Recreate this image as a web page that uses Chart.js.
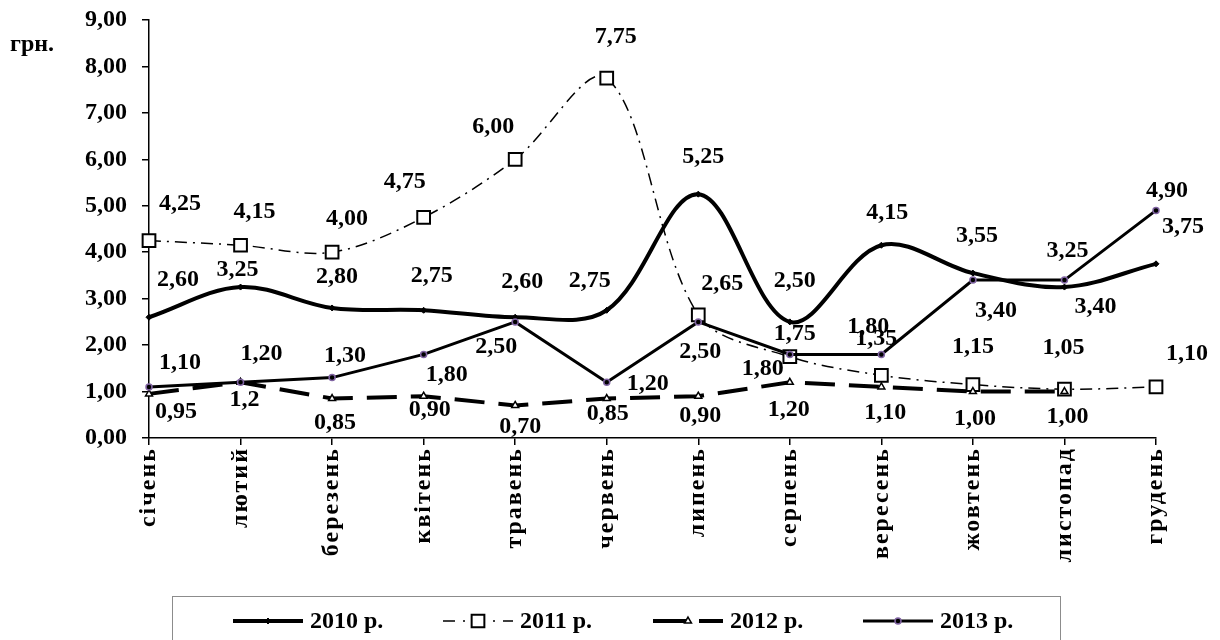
<!DOCTYPE html>
<html>
<head>
<meta charset="utf-8">
<script src="https://cdn.jsdelivr.net/npm/chart.js@4"></script>
<style>
  body { margin: 0; background: #fff; }
  canvas { display: block; }
</style>
</head>
<body>
<canvas id="lineChart" width="1220" height="640"></canvas>
<script>
const months = ["січень", "лютий", "березень", "квітень", "травень", "червень",
  "липень", "серпень", "вересень", "жовтень", "листопад", "грудень"];
const v2010 = [2.60, 3.25, 2.80, 2.75, 2.60, 2.75, 5.25, 2.50, 4.15, 3.55, 3.25, 3.75];
const v2011 = [4.25, 4.15, 4.00, 4.75, 6.00, 7.75, 2.65, 1.75, 1.35, 1.15, 1.05, 1.10];
const v2012 = [0.95, 1.20, 0.85, 0.90, 0.70, 0.85, 0.90, 1.20, 1.10, 1.00, 1.00, null];
const v2013 = [1.10, 1.20, 1.30, 1.80, 2.50, 1.20, 2.50, 1.80, 1.80, 3.40, 3.40, 4.90];
const seriesNames = ["2010 р.", "2011 р.", "2012 р.", "2013 р."];
const yMin = 0, yMax = 9, yStep = 1;

// where each value label sits relative to its point (dx, dy), as in the original
const off2010 = [[29,-37],[-3,-17],[5,-31],[8,-34],[7,-35],[-17,-29],[5,-37],[5,-41],[6,-32],[4,-37],[3,-36],[27,-37]];
const off2011 = [[31,-37],[14,-33],[15,-33],[-19,-36],[-22,-33],[9,-41],[24,-31],[5,-23],[-5,-37],[0,-38],[-1,-41],[31,-33]];
const off2012 = [[27,18],[4,18],[3,24],[6,14],[5,21],[1,15],[2,20],[-1,28],[4,26],[2,27],[3,25],null];
const off2013 = [[31,-24],[21,-28],[13,-22],[23,20],[-19,25],[41,2],[2,30],[-27,14],[-13,-28],[23,31],[31,27],[11,-20]];
const labelOffsets = [off2010, off2011, off2012, off2013];

const FONT = "'Liberation Serif', 'Times New Roman', serif";
const purple = "#8064A2";

function fmt(v, ds, i) {
  if (ds === 2 && i === 1) return "1,2"; // written this way in the source
  return v.toFixed(2).replace(".", ",");
}

// value labels, "грн." and the boxed legend
const extras = {
  id: "extras",
  afterDatasetsDraw(chart) {
    chart.ctx.letterSpacing = "2px"; // month labels (drawn after datasets) are spaced out
  },
  afterDraw(chart) {
    const ctx = chart.ctx;
    ctx.save();
    ctx.letterSpacing = "0px";
    ctx.fillStyle = "#000";
    ctx.font = "bold 24px " + FONT;
    ctx.textAlign = "center";
    ctx.textBaseline = "middle";
    chart.data.datasets.forEach((ds, d) => {
      const meta = chart.getDatasetMeta(d);
      meta.data.forEach((pt, i) => {
        const v = ds.data[i];
        if (v == null) return;
        const o = labelOffsets[d][i];
        ctx.fillText(fmt(v, d, i), pt.x + o[0], pt.y + o[1]);
      });
    });

    ctx.textAlign = "left";
    ctx.fillText("грн.", 10, 45);

    // legend
    ctx.strokeStyle = "#8c8c8c";
    ctx.lineWidth = 1;
    ctx.strokeRect(172.5, 596.5, 888, 60);
    const ly = 621;
    chart.data.datasets.forEach((ds, d) => {
      const x0 = 233 + d * 210;
      ctx.save();
      ctx.strokeStyle = "#000";
      ctx.lineWidth = ds.borderWidth;
      ctx.setLineDash(ds.legendDash || []);
      ctx.beginPath();
      ctx.moveTo(x0, ly);
      ctx.lineTo(x0 + 70, ly);
      ctx.stroke();
      ctx.setLineDash([]);
      ctx.fillStyle = ds.pointBackgroundColor;
      ctx.strokeStyle = ds.pointBorderColor;
      ctx.lineWidth = ds.pointBorderWidth;
      Chart.helpers.drawPoint(ctx, {
        pointStyle: ds.pointStyle, radius: ds.pointRadius, rotation: 0,
        borderWidth: ds.pointBorderWidth
      }, x0 + 35, ly);
      ctx.restore();
      ctx.fillStyle = "#000";
      ctx.textAlign = "left";
      ctx.fillText(ds.label, x0 + 77, ly + 1);
    });
    ctx.restore();
  }
};

const config = {
  type: "line",
  data: {
    labels: months,
    datasets: [
      {
        label: seriesNames[0], data: v2010, order: 4,
        borderColor: "#000", borderWidth: 4, tension: 0.35,
        pointStyle: "rectRot", pointRadius: 3,
        pointBackgroundColor: "#000", pointBorderColor: "#000", pointBorderWidth: 1
      },
      {
        label: seriesNames[1], data: v2011, order: 3,
        borderColor: "#000", borderWidth: 1.5, tension: 0.33,
        borderDash: [12, 6, 2, 6], legendDash: [12, 8, 2, 8],
        pointStyle: "rect", pointRadius: 9,
        pointBackgroundColor: "#fff", pointBorderColor: "#000", pointBorderWidth: 2
      },
      {
        label: seriesNames[2], data: v2012, order: 2,
        borderColor: "#000", borderWidth: 4, tension: 0,
        borderDash: [30, 14], legendDash: [36, 10],
        pointStyle: "triangle", pointRadius: 4,
        pointBackgroundColor: "#fff", pointBorderColor: "#000", pointBorderWidth: 1.5
      },
      {
        label: seriesNames[3], data: v2013, order: 1,
        borderColor: "#000", borderWidth: 3, tension: 0,
        pointStyle: "circle", pointRadius: 3,
        pointBackgroundColor: "#000", pointBorderColor: purple, pointBorderWidth: 1.5
      }
    ]
  },
  options: {
    responsive: false,
    animation: false,
    devicePixelRatio: 1,
    layout: { autoPadding: false, padding: { left: 0, top: 20, right: 64, bottom: 0 } },
    plugins: { legend: { display: false }, tooltip: { enabled: false } },
    scales: {
      x: {
        offset: false,
        afterFit(scale) { scale.height = 202; scale.paddingLeft = 0; scale.paddingRight = 0; },
        grid: { drawOnChartArea: false, drawTicks: true, tickLength: 7, color: "#000", lineWidth: 1.5 },
        border: { color: "#000", width: 1.5 },
        ticks: {
          z: 1, color: "#000", padding: 2, minRotation: 90, maxRotation: 90, autoSkip: false,
          font: { family: FONT, size: 24, weight: "bold" }
        }
      },
      y: {
        min: yMin, max: yMax,
        afterFit(scale) { scale.width = 149; scale.paddingTop = 0; scale.paddingBottom = 0; },
        grid: { drawOnChartArea: false, drawTicks: true, tickLength: 7, color: "#000", lineWidth: 1.5 },
        border: { color: "#000", width: 1.5 },
        ticks: {
          stepSize: yStep, color: "#000", padding: 15,
          font: { family: FONT, size: 24, weight: "bold" },
          callback: (v) => v.toFixed(2).replace(".", ",")
        }
      }
    }
  },
  plugins: [extras]
};

const ctx = document.getElementById("lineChart").getContext("2d");
const myChart = new Chart(ctx, config);
</script>
</body>
</html>
